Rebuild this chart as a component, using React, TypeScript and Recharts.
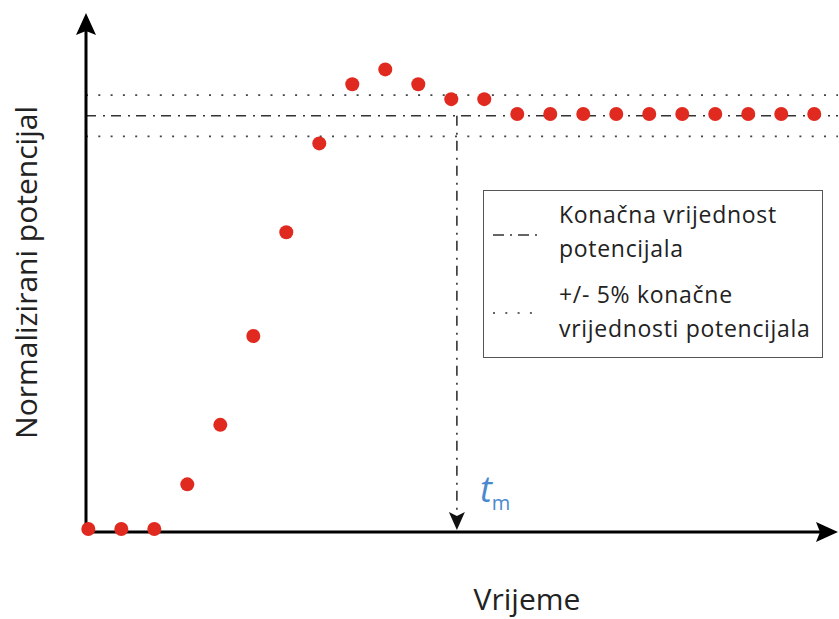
import React from 'react';
import { ScatterChart, Scatter, XAxis, YAxis, ReferenceLine, Legend, Label } from 'recharts';

const times = [0, 1, 2, 3, 4, 5, 6, 7, 8, 9, 10, 11, 12, 13, 14, 15, 16, 17, 18, 19, 20, 21, 22];
const potential = [
  0, 0, 0, 0.108, 0.252, 0.467, 0.718, 0.933, 1.076, 1.112, 1.076, 1.04,
  1.04, 1.004, 1.004, 1.004, 1.004, 1.004, 1.004, 1.004, 1.004, 1.004, 1.004,
];
const finalValue = 1;
const band = [0.95, 1.05];
const settlingTime = 11.17;

const legendItems = [
  { kind: 'dashdot', lines: ['Konačna vrijednost', 'potencijala'] },
  { kind: 'dotted', lines: ['+/- 5% konačne', 'vrijednosti potencijala'] },
];

const data = times.map((t, i) => ({ t, v: potential[i] }));

const FONT = '"Open Sans", "DejaVu Sans", sans-serif';
const RED = '#e02a1f';
const BLUE = '#4a89d0';
const DASHDOT = '10 7 2 6';
const DOTTED = '2 10.3';
const X_DOMAIN = [-0.07, 22.72];
const Y_DOMAIN = [-0.0073, 1.2485];

const AxisArrow = (props: any) => {
  const { x1, y1, x2, y2 } = props;
  const dx = x2 - x1;
  const dy = y2 - y1;
  const len = Math.hypot(dx, dy) || 1;
  const ux = dx / len;
  const uy = dy / len;
  const head = 22;
  const half = 10;
  const notch = 4;
  const bx = x2 - ux * head;
  const by = y2 - uy * head;
  const nx = -uy;
  const ny = ux;
  const pts = `${x2},${y2} ${bx + nx * half},${by + ny * half} ${bx + ux * notch},${by + uy * notch} ${bx - nx * half},${by - ny * half}`;
  return (
    <g>
      <line x1={x1} y1={y1} x2={bx + ux * notch} y2={by + uy * notch} stroke="#000" strokeWidth={3} />
      <polygon points={pts} fill="#000" />
    </g>
  );
};

const SettlingMarker = (props: any) => {
  const { x1, y1, y2 } = props;
  const tip = y2 + 1;
  const head = 18;
  const half = 8;
  return (
    <g>
      <line x1={x1} y1={y1} x2={x1} y2={tip - head + 2} stroke="#333" strokeWidth={1.6} strokeDasharray={DASHDOT} />
      <polygon points={`${x1},${tip} ${x1 - half},${tip - head} ${x1},${tip - head + 4} ${x1 + half},${tip - head}`} fill="#111" />
      <text x={x1 + 23} y={y2 - 27} fill={BLUE} fontFamily={FONT} fontStyle="italic" fontSize={36}>
        t
        <tspan fontStyle="normal" fontSize={20} dy={8}>m</tspan>
      </text>
    </g>
  );
};

const Sample = ({ kind }: { kind: string }) => (
  <svg width={46} height={6} style={{ display: 'block' }}>
    <line
      x1={0}
      y1={3}
      x2={46}
      y2={3}
      stroke="#333"
      strokeWidth={1.6}
      strokeDasharray={kind === 'dashdot' ? '11 6 2 6' : '2 10.3'}
    />
  </svg>
);

const LegendBox = () => (
  <div
    style={{
      position: 'relative',
      width: 340,
      height: 168,
      boxSizing: 'border-box',
      border: '1px solid #555',
      background: '#fff',
      fontFamily: FONT,
      fontSize: 23,
      letterSpacing: 0.7,
      lineHeight: '34px',
      color: '#222',
    }}
  >
    {legendItems.map((item, i) => (
      <div key={i} style={{ position: 'absolute', left: 0, top: 6 + i * 80, width: '100%' }}>
        <div style={{ position: 'absolute', left: 9, top: item.kind === 'dashdot' ? 35 : 33 }}>
          <Sample kind={item.kind} />
        </div>
        <div style={{ position: 'absolute', left: 75, top: 0, whiteSpace: 'nowrap' }}>
          {item.lines.map((l, j) => (
            <div key={j}>{l}</div>
          ))}
        </div>
      </div>
    ))}
  </div>
);

export default function App() {
  return (
    <div style={{ position: 'absolute', left: 0, top: 0, background: '#fff' }}>
      <ScatterChart width={839} height={619} margin={{ top: 13, right: 1, bottom: 0, left: 0 }}>
        <XAxis
          dataKey="t"
          type="number"
          domain={X_DOMAIN}
          height={87}
          axisLine={false}
          tickLine={false}
          tick={false}
        >
          <Label value="Vrijeme" position="insideBottom" offset={9} dx={65} fontSize={30} fill="#222" fontFamily={FONT} />
        </XAxis>
        <YAxis
          dataKey="v"
          type="number"
          domain={Y_DOMAIN}
          width={86}
          axisLine={false}
          tickLine={false}
          tick={false}
        >
          <Label
            value="Normalizirani potencijal"
            angle={-90}
            position="insideLeft"
            offset={26}
            fontSize={30}
            fill="#222"
            fontFamily={FONT}
            style={{ textAnchor: 'middle' }}
          />
        </YAxis>
        <ReferenceLine y={band[1]} stroke="#444" strokeWidth={1.8} strokeDasharray={DOTTED} />
        <ReferenceLine y={band[0]} stroke="#444" strokeWidth={1.8} strokeDasharray={DOTTED} />
        <ReferenceLine y={finalValue} stroke="#333" strokeWidth={1.6} strokeDasharray={DASHDOT} />
        <ReferenceLine
          segment={[
            { x: settlingTime, y: finalValue },
            { x: settlingTime, y: 0 },
          ]}
          shape={SettlingMarker}
        />
        <ReferenceLine
          segment={[
            { x: X_DOMAIN[0], y: Y_DOMAIN[0] },
            { x: X_DOMAIN[1], y: Y_DOMAIN[0] },
          ]}
          shape={AxisArrow}
        />
        <ReferenceLine
          segment={[
            { x: X_DOMAIN[0], y: Y_DOMAIN[0] },
            { x: X_DOMAIN[0], y: Y_DOMAIN[1] },
          ]}
          shape={AxisArrow}
        />
        <Scatter
          data={data}
          isAnimationActive={false}
          shape={(p: any) => <circle cx={p.cx} cy={p.cy} r={7} fill={RED} />}
        />
        <Legend
          layout="horizontal"
          verticalAlign="middle"
          align="center"
          wrapperStyle={{ left: 483, top: 190, width: 340, height: 168 }}
          content={() => <LegendBox />}
        />
      </ScatterChart>
    </div>
  );
}
